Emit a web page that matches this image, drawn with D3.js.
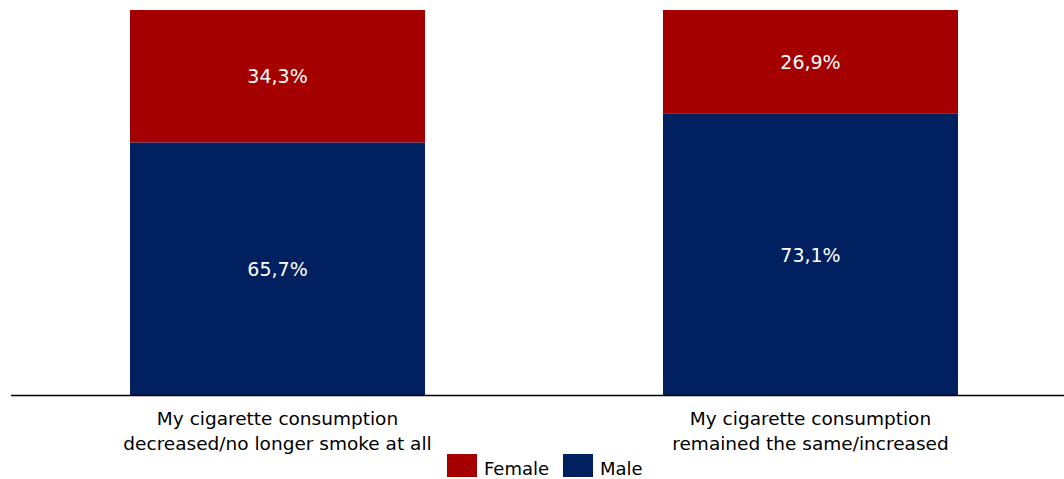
<!DOCTYPE html>
<html><head><meta charset="utf-8">
<script src="https://cdn.jsdelivr.net/npm/d3@7"></script>
<style>body{margin:0;background:#fff}svg{display:block}text{font-family:"DejaVu Sans",Verdana,sans-serif}</style>
</head><body><svg id="c" width="1064" height="479"></svg>
<script>
const categories = [
  ["My cigarette consumption", "decreased/no longer smoke at all"],
  ["My cigarette consumption", "remained the same/increased"]
];
const seriesNames = ["Male", "Female"];
const male = [65.7, 73.1];
const female = [34.3, 26.9];
const colors = {Male: "#002060", Female: "#a40000"};

const svg = d3.select("#c");
const W = 1064, H = 479;
const x = d3.scaleBand().domain(d3.range(categories.length))
  .range([11, 1077]).paddingInner(0.4465).paddingOuter(0.2233);
const y = d3.scaleLinear().domain([0, 100]).range([396, 10]);

const rows = categories.map((c, i) => ({i, Male: male[i], Female: female[i]}));
const stack = d3.stack().keys(seriesNames)(rows);

const g = svg.append("g");
stack.forEach(s => {
  g.selectAll(null).data(s).enter().append("rect")
    .attr("x", d => x(d.data.i))
    .attr("width", x.bandwidth())
    .attr("y", d => y(d[1]))
    .attr("height", d => y(d[0]) - y(d[1]))
    .attr("fill", colors[s.key]);
  g.selectAll(null).data(s).enter().append("text")
    .attr("x", d => x(d.data.i) + x.bandwidth() / 2)
    .attr("y", d => (y(d[0]) + y(d[1])) / 2)
    .attr("dy", "0.35em")
    .attr("text-anchor", "middle")
    .attr("fill", "#fff")
    .attr("font-size", 19)
    .text(d => (d[1] - d[0]).toFixed(1).replace(".", ",") + "%");
});

svg.append("line").attr("x1", 11).attr("x2", W).attr("y1", 395.5).attr("y2", 395.5)
  .attr("stroke", "#000").attr("stroke-width", 1.3);

categories.forEach((lines, i) => {
  const t = svg.append("text").attr("text-anchor", "middle").attr("font-size", 18.5).attr("fill", "#000");
  lines.forEach((l, k) => t.append("tspan").attr("x", x(i) + x.bandwidth() / 2).attr("y", 425 + k * 24.5).text(l));
});

const legend = [{k: "Female", x: 447}, {k: "Male", x: 563}];
legend.forEach(d => {
  svg.append("rect").attr("x", d.x).attr("y", 454).attr("width", 30).attr("height", 23).attr("fill", colors[d.k]);
  svg.append("text").attr("x", d.x + 37).attr("y", 475).attr("font-size", 18).attr("fill", "#000").text(d.k);
});
</script></body></html>
